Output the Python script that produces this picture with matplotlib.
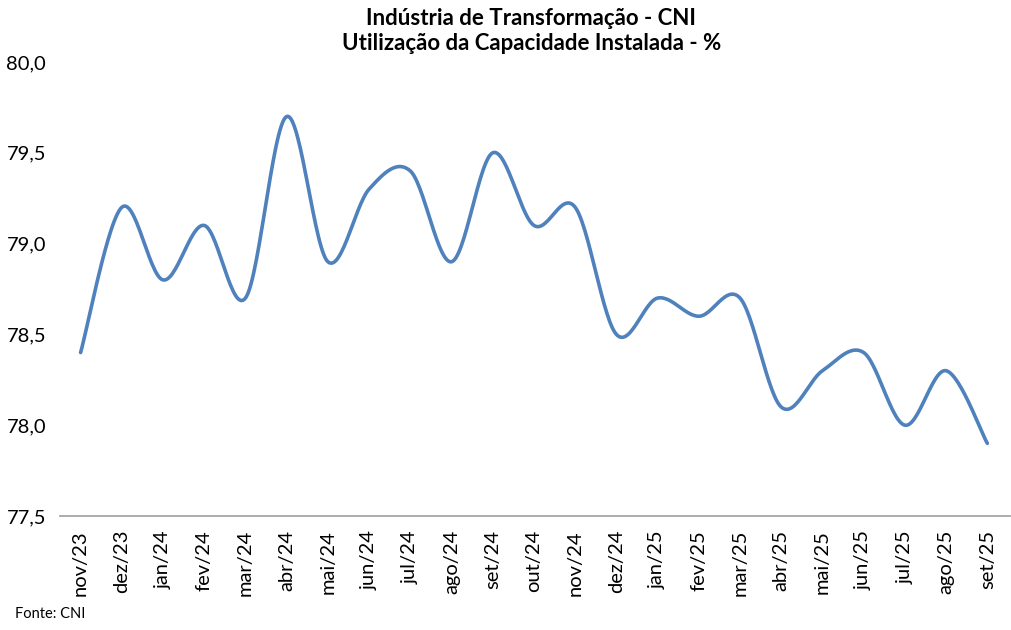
import numpy as np
import matplotlib
matplotlib.use("Agg")
import matplotlib.pyplot as plt

plt.rcParams['font.family'] = ['Lato', 'DejaVu Sans']

months = ["nov/23", "dez/23", "jan/24", "fev/24", "mar/24", "abr/24", "mai/24",
          "jun/24", "jul/24", "ago/24", "set/24", "out/24", "nov/24", "dez/24",
          "jan/25", "fev/25", "mar/25", "abr/25", "mai/25", "jun/25", "jul/25",
          "ago/25", "set/25"]
values = [78.4, 79.2, 78.8, 79.1, 78.7, 79.7, 78.9, 79.3, 79.4, 78.9, 79.5, 79.1,
          79.2, 78.5, 78.7, 78.6, 78.7, 78.1, 78.3, 78.4, 78.0, 78.3, 77.9]
yticks = [77.5, 78.0, 78.5, 79.0, 79.5, 80.0]


def smooth(x, y, n=30):
    # Excel-like smoothing (Catmull-Rom via cubic Bezier)
    x = np.asarray(x, float); y = np.asarray(y, float)
    px = np.concatenate([[x[0]], x, [x[-1]]])
    py = np.concatenate([[y[0]], y, [y[-1]]])
    xs, ys = [], []
    t = np.linspace(0, 1, n, endpoint=False)
    for i in range(len(x) - 1):
        p0 = np.array([px[i], py[i]]); p1 = np.array([px[i+1], py[i+1]])
        p2 = np.array([px[i+2], py[i+2]]); p3 = np.array([px[i+3], py[i+3]])
        c1 = p1 + (p2 - p0) / 6.0
        c2 = p2 - (p3 - p1) / 6.0
        b = ((1-t)**3)[:, None]*p1 + (3*(1-t)**2*t)[:, None]*c1 + (3*(1-t)*t**2)[:, None]*c2 + (t**3)[:, None]*p2
        xs.extend(b[:, 0]); ys.extend(b[:, 1])
    xs.append(x[-1]); ys.append(y[-1])
    return np.array(xs), np.array(ys)


fig = plt.figure(figsize=(10.12, 6.30), dpi=100)
ax = fig.add_axes([60/1012, 1 - 516/630, (1010-60)/1012, (516-62)/630])

xi = np.arange(len(months))
sx, sy = smooth(xi, values)
ax.plot(sx, sy, color='#4F81BD', lw=2.6, solid_capstyle='round')

ax.set_xlim(-0.5, len(months) - 0.5 + 0.05)
ax.set_ylim(77.5, 80.0)
ax.set_yticks(yticks)
ax.set_yticklabels([f"{v:.1f}".replace('.', ',') for v in yticks], fontsize=14.5)
ax.set_xticks(xi)
ax.set_xticklabels(months, rotation=90, fontsize=14.5)
ax.tick_params(axis='both', length=0)
ax.tick_params(axis='y', pad=10)
ax.tick_params(axis='x', pad=10)
for s in ['top', 'right', 'left']:
    ax.spines[s].set_visible(False)
ax.spines['bottom'].set_color('#A6A6A6')
ax.spines['bottom'].set_linewidth(1.3)

fig.text(0.525, 0.988, "Indústria de Transformação - CNI\nUtilização da Capacidade Instalada - %",
         ha='center', va='top', fontsize=16, fontweight='bold', linespacing=1.25)
fig.text(15/1012, 1 - 614/630, "Fonte: CNI", fontsize=10.5, va='center')

fig.savefig("out.png", dpi=100)
